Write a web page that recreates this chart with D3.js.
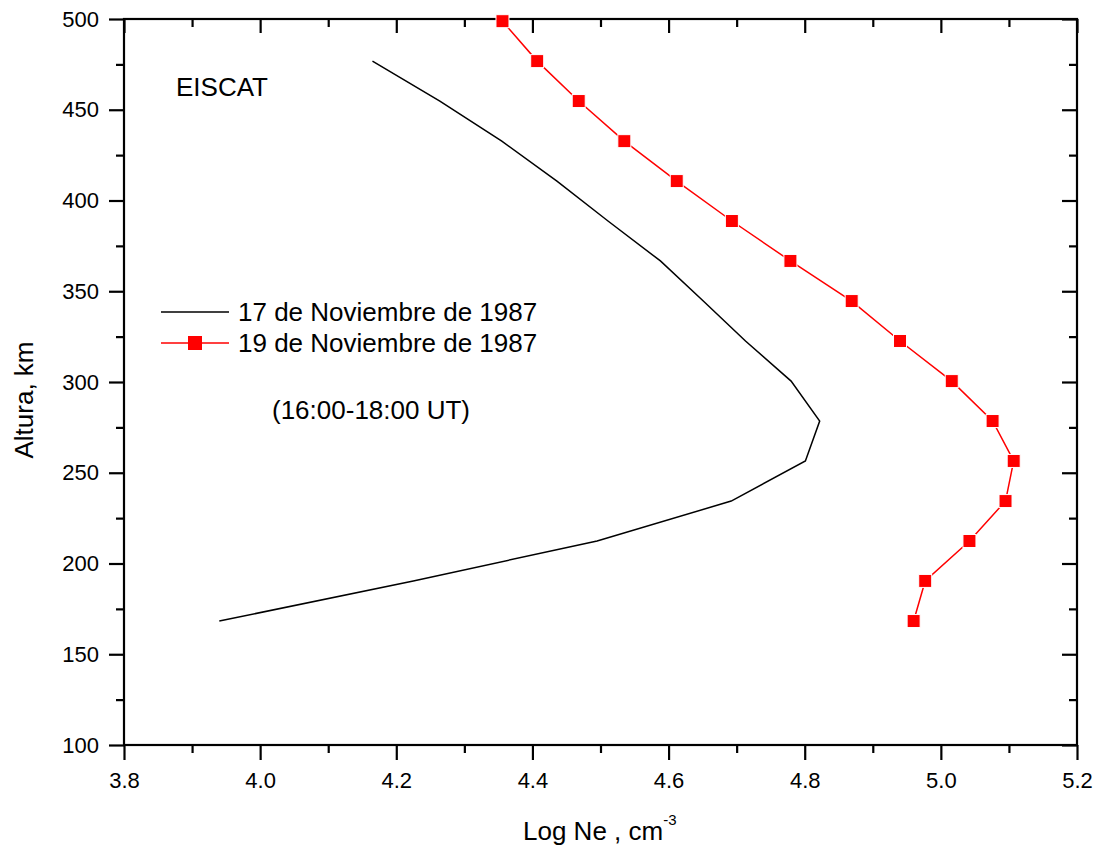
<!DOCTYPE html>
<html>
<head>
<meta charset="utf-8">
<script src="https://cdn.jsdelivr.net/npm/d3@7"></script>
<style>
  html, body { margin: 0; padding: 0; background: #fff; }
  svg { display: block; font-family: "Liberation Sans", Arial, sans-serif; }
</style>
</head>
<body>
<svg id="chart" width="1101" height="846"></svg>
<script>
// ---- Data ----
const altitudes = [168.3, 190.4, 212.4, 234.4, 256.5, 278.5, 300.5, 322.6, 344.6, 366.7, 388.7, 410.7, 432.7, 454.8, 476.8, 498.8];
const nov17 = [3.940, 4.225, 4.495, 4.692, 4.801, 4.822, 4.780, 4.713, 4.651, 4.588, 4.511, 4.436, 4.355, 4.264, 4.165, null];
const nov19 = [4.960, 4.977, 5.042, 5.095, 5.107, 5.076, 5.016, 4.940, 4.869, 4.779, 4.693, 4.612, 4.535, 4.468, 4.407, 4.356];
const xMajorTicks = [3.8, 4.0, 4.2, 4.4, 4.6, 4.8, 5.0, 5.2];
const xMinorTicks = [3.9, 4.1, 4.3, 4.5, 4.7, 4.9, 5.1];
const yMajorTicks = [100, 150, 200, 250, 300, 350, 400, 450, 500];
const yMinorTicks = [125, 175, 225, 275, 325, 375, 425, 475];
const seriesNames = ["17 de Noviembre de 1987", "19 de Noviembre de 1987"];

// ---- Layout ----
const svg = d3.select("#chart");
const L = 124, R = 1077, T = 19, B = 745;
const x = d3.scaleLinear().domain([3.8, 5.2]).range([L, R]);
const y = d3.scaleLinear().domain([100, 500]).range([B, T]);

function styleAxis(g) {
  g.select(".domain").remove();
  g.selectAll(".tick line").attr("stroke", "#000").attr("stroke-width", 2.2);
  g.selectAll(".tick text").attr("fill", "#000").attr("font-size", 22)
    .attr("font-family", "'Liberation Sans', Arial, sans-serif");
}

// Bottom axis (outward ticks)
svg.append("g").attr("transform", `translate(0,${B})`)
  .call(d3.axisBottom(x).tickValues(xMajorTicks).tickFormat(d3.format(".1f")).tickSize(15).tickPadding(12))
  .call(styleAxis);
svg.append("g").attr("transform", `translate(0,${B})`)
  .call(d3.axisBottom(x).tickValues(xMinorTicks).tickFormat("").tickSize(8))
  .call(styleAxis);
// Left axis (outward ticks)
svg.append("g").attr("transform", `translate(${L},0)`)
  .call(d3.axisLeft(y).tickValues(yMajorTicks).tickFormat(d3.format("d")).tickSize(15).tickPadding(10))
  .call(styleAxis);
svg.append("g").attr("transform", `translate(${L},0)`)
  .call(d3.axisLeft(y).tickValues(yMinorTicks).tickFormat("").tickSize(8))
  .call(styleAxis);
// Top axis (inward ticks)
svg.append("g").attr("transform", `translate(0,${T})`)
  .call(d3.axisTop(x).tickValues(xMajorTicks).tickFormat("").tickSize(-14))
  .call(styleAxis);
svg.append("g").attr("transform", `translate(0,${T})`)
  .call(d3.axisTop(x).tickValues(xMinorTicks).tickFormat("").tickSize(-8))
  .call(styleAxis);
// Right axis (inward ticks)
svg.append("g").attr("transform", `translate(${R},0)`)
  .call(d3.axisRight(y).tickValues(yMajorTicks).tickFormat("").tickSize(-15))
  .call(styleAxis);
svg.append("g").attr("transform", `translate(${R},0)`)
  .call(d3.axisRight(y).tickValues(yMinorTicks).tickFormat("").tickSize(-8))
  .call(styleAxis);

// Frame
svg.append("rect").attr("x", L).attr("y", T).attr("width", R - L).attr("height", B - T)
  .attr("fill", "none").attr("stroke", "#000").attr("stroke-width", 2.2);

// ---- Series ----
const d17 = altitudes.map((a, i) => ({ a, v: nov17[i] })).filter(d => d.v != null);
const d19 = altitudes.map((a, i) => ({ a, v: nov19[i] }));
const line = d3.line().x(d => x(d.v)).y(d => y(d.a));

svg.append("path").datum(d17).attr("d", line)
  .attr("fill", "none").attr("stroke", "#000").attr("stroke-width", 1.5);
svg.append("path").datum(d19).attr("d", line)
  .attr("fill", "none").attr("stroke", "#ff0000").attr("stroke-width", 1.5);

const ms = 13;
svg.append("g").selectAll("rect").data(d19).join("rect")
  .attr("x", d => x(d.v) - ms / 2).attr("y", d => y(d.a) - ms / 2)
  .attr("width", ms).attr("height", ms)
  .attr("fill", "#ff0000").attr("stroke", "#fff").attr("stroke-width", 1);

// ---- Legend ----
const legX1 = 161, legX2 = 229, legTextX = 238;
const legRows = [
  { name: seriesNames[0], color: "#000", marker: false, ly: 312, ty: 321 },
  { name: seriesNames[1], color: "#ff0000", marker: true, ly: 343, ty: 352 }
];
legRows.forEach(r => {
  svg.append("line").attr("x1", legX1).attr("x2", legX2).attr("y1", r.ly).attr("y2", r.ly)
    .attr("stroke", r.color).attr("stroke-width", 1.5);
  if (r.marker) {
    svg.append("rect").attr("x", (legX1 + legX2) / 2 - 7).attr("y", r.ly - 7)
      .attr("width", 14).attr("height", 14).attr("fill", "#ff0000");
  }
  svg.append("text").attr("x", legTextX).attr("y", r.ty).attr("font-size", 26)
    .attr("fill", "#000").text(r.name);
});

// ---- Annotations ----
svg.append("text").attr("x", 176).attr("y", 96).attr("font-size", 26).text("EISCAT");
svg.append("text").attr("x", 272).attr("y", 419).attr("font-size", 26).text("(16:00-18:00 UT)");

// ---- Axis titles ----
const xt = svg.append("text").attr("x", 523).attr("y", 840).attr("font-size", 26).attr("fill", "#000");
xt.append("tspan").text("Log Ne , cm");
xt.append("tspan").attr("font-size", 15).attr("dy", -15).text("-3");

svg.append("text").attr("transform", "translate(33,400) rotate(-90)")
  .attr("text-anchor", "middle").attr("font-size", 26).text("Altura, km");
</script>
</body>
</html>
